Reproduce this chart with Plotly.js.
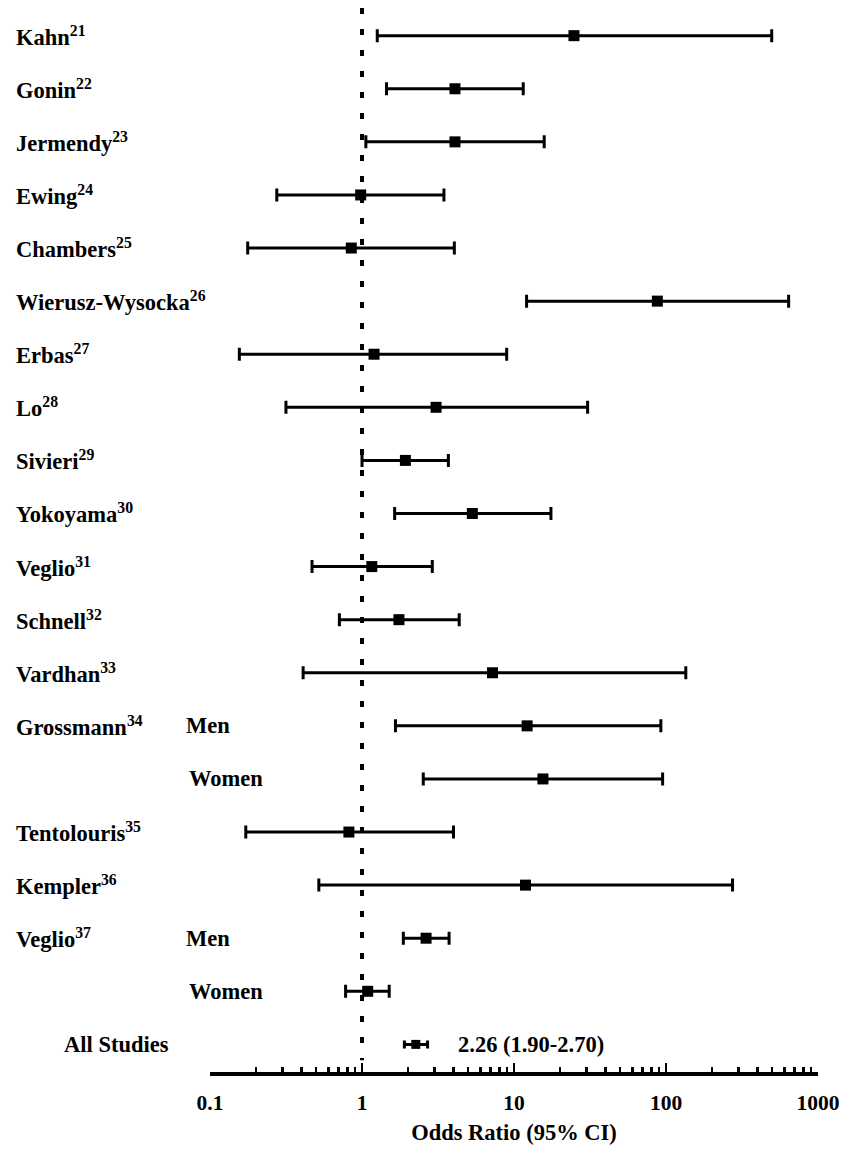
<!DOCTYPE html>
<html>
<head>
<meta charset="utf-8">
<script src="https://cdn.plot.ly/plotly-3.0.1.min.js"></script>
<style>html,body{margin:0;padding:0;background:#fff;}#chart{width:853px;height:1154px;}</style>
</head>
<body>
<div id="chart"></div>
<script>
// ---- data ----
const studies   = ["Kahn","Gonin","Jermendy","Ewing","Chambers","Wierusz-Wysocka","Erbas","Lo","Sivieri","Yokoyama","Veglio","Schnell","Vardhan","Grossmann","","Tentolouris","Kempler","Veglio",""];
const refs      = ["21","22","23","24","25","26","27","28","29","30","31","32","33","34","","35","36","37",""];
const subgroups = ["","","","","","","","","","","","","","Men","Women","","","Men","Women"];
const oddsRatio = [24.8, 4.09, 4.09, 0.98, 0.85, 87.7, 1.20, 3.07, 1.93, 5.32, 1.16, 1.75, 7.22, 12.2, 15.5, 0.82, 11.9, 2.64, 1.09];
const ciLower   = [1.26, 1.45, 1.06, 0.275, 0.177, 12.1, 0.156, 0.316, 1.00, 1.64, 0.469, 0.71, 0.41, 1.66, 2.53, 0.172, 0.52, 1.87, 0.78];
const ciUpper   = [496, 11.5, 15.8, 3.46, 4.05, 641, 8.95, 30.5, 3.70, 17.5, 2.90, 4.36, 135, 92.5, 95, 4.0, 274, 3.74, 1.51];
const overallLabel = "All Studies";
const overallOR = 2.26, overallLo = 1.90, overallHi = 2.70;
const tickVals  = [0.1, 1, 10, 100, 1000];
const tickText  = ["0.1", "1", "10", "100", "1000"];
const xTitle    = "Odds Ratio (95% CI)";

// ---- build ----
const rowIdx = studies.map((_, i) => i);
const overallRow = studies.length;

const studyTrace = {
  type: 'scatter', mode: 'markers',
  x: oddsRatio, y: rowIdx,
  marker: {symbol: 'square', size: 11, color: '#000'},
  error_x: {
    type: 'data', symmetric: false,
    array: oddsRatio.map((v, i) => ciUpper[i] - v),
    arrayminus: oddsRatio.map((v, i) => v - ciLower[i]),
    color: '#000', thickness: 3, width: 6.5
  },
  hoverinfo: 'skip', showlegend: false, cliponaxis: false
};
const overallTrace = {
  type: 'scatter', mode: 'markers',
  x: [overallOR], y: [overallRow],
  marker: {symbol: 'square', size: 9, color: '#000'},
  error_x: {
    type: 'data', symmetric: false,
    array: [overallHi - overallOR], arrayminus: [overallOR - overallLo],
    color: '#000', thickness: 3, width: 4
  },
  hoverinfo: 'skip', showlegend: false, cliponaxis: false
};

const serif = '"Liberation Serif", "Times New Roman", Times, serif';
const labFont = {family: serif, size: 22.5, color: '#000', weight: 'bold'};

const annotations = [];
studies.forEach((s, i) => {
  if (s) annotations.push({
    xref: 'paper', yref: 'y', x: -0.3224, y: i, xanchor: 'left', yanchor: 'middle',
    text: '<b>' + s + '<sup>' + refs[i] + '</sup></b>', showarrow: false, font: labFont
  });
  if (subgroups[i]) annotations.push({
    xref: 'paper', yref: 'y', x: subgroups[i] === 'Men' ? -0.0428 : -0.0378, y: i,
    xanchor: 'left', yanchor: 'middle',
    text: '<b>' + subgroups[i] + '</b>', showarrow: false, font: labFont
  });
});
annotations.push({
  xref: 'paper', yref: 'y', x: -0.2434, y: overallRow, xanchor: 'left', yanchor: 'middle',
  text: '<b>' + overallLabel + '</b>', showarrow: false, font: labFont
});
annotations.push({
  xref: 'paper', yref: 'y', x: 0.405, y: overallRow, xanchor: 'left', yanchor: 'middle',
  text: '<b>' + overallOR.toFixed(2) + ' (' + overallLo.toFixed(2) + '-' + overallHi.toFixed(2) + ')</b>',
  showarrow: false, font: labFont
});

const layout = {
  width: 853, height: 1154,
  margin: {l: 210, r: 35, t: 0, b: 82},
  paper_bgcolor: '#fff', plot_bgcolor: '#fff',
  showlegend: false,
  font: {family: serif},
  xaxis: {
    type: 'log', range: [-1, 3],
    tickmode: 'array', tickvals: tickVals, ticktext: tickText,
    ticks: 'inside', ticklen: 9, tickwidth: 2.5, tickcolor: '#000',
    minor: {ticks: 'inside', ticklen: 5, tickwidth: 2.5, tickcolor: '#000', dtick: 'D1', showgrid: false},
    showline: true, linewidth: 3.5, linecolor: '#000',
    showgrid: false, zeroline: false,
    tickfont: {family: serif, size: 21.5, color: '#000', weight: 'bold'},
    ticklabelstandoff: 9,
    title: {text: '<b>' + xTitle + '</b>', font: {family: serif, size: 22.5, color: '#000', weight: 'bold'}, standoff: 11},
    automargin: false, fixedrange: true
  },
  yaxis: {
    range: [19.52, -0.672], showgrid: false, zeroline: false, showline: false,
    showticklabels: false, ticks: '', automargin: false, fixedrange: true
  },
  shapes: [{
    type: 'line', xref: 'x', yref: 'y', x0: 1, x1: 1, y0: -0.52, y1: 19.3,
    line: {color: '#000', width: 4, dash: '6px,15px'}
  }],
  annotations: annotations
};

Plotly.newPlot('chart', [studyTrace, overallTrace], layout, {staticPlot: true, displayModeBar: false});
</script>
</body>
</html>
